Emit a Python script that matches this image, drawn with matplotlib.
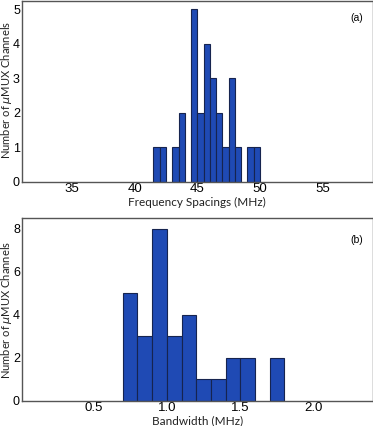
import matplotlib
matplotlib.use("Agg")
import matplotlib.pyplot as plt

# (a) frequency spacing histogram, 0.5 MHz bins
freq_left_edges = [41.5, 42.0, 43.0, 43.5, 44.5, 45.0, 45.5, 46.0, 46.5,
                   47.0, 47.5, 48.0, 49.0, 49.5]
freq_counts = [1, 1, 1, 2, 5, 2, 4, 3, 2, 1, 3, 1, 1, 1]
freq_bin_width = 0.5
freq_ticks = [35, 40, 45, 50, 55]

# (b) bandwidth histogram, 0.1 MHz bins
bw_left_edges = [0.7, 0.8, 0.9, 1.0, 1.1, 1.2, 1.3, 1.4, 1.5, 1.7]
bw_counts = [5, 3, 8, 3, 4, 1, 1, 2, 2, 2]
bw_bin_width = 0.1
bw_ticks = [0.5, 1.0, 1.5, 2.0]

bar_color = "#1f4ab4"
edge_color = "#16244f"
spine_color = "#555555"
label_font = ["Lato", "DejaVu Sans"]
tick_font = ["Liberation Sans", "DejaVu Sans"]


def style_axes(ax):
    for s in ax.spines.values():
        s.set_color(spine_color)
        s.set_linewidth(1.0)
    ax.tick_params(axis="x", length=0, labelsize=9.5, pad=1.0)
    ax.tick_params(axis="y", length=0, labelsize=9, pad=1.5)
    for lab in ax.get_xticklabels() + ax.get_yticklabels():
        lab.set_family(tick_font)


fig = plt.figure(figsize=(3.73, 4.26), dpi=100)
ax1 = fig.add_axes([0.059, 0.573, 0.940, 0.425])
ax2 = fig.add_axes([0.059, 0.059, 0.940, 0.429])

ax1.bar(freq_left_edges, freq_counts, width=freq_bin_width, align="edge",
        color=bar_color, edgecolor=edge_color, linewidth=0.8)
ax1.set_xlim(31, 59)
ax1.set_ylim(0, 5.25)
ax1.set_xticks(freq_ticks)
ax1.set_yticks(range(0, 6))
ax1.set_xlabel("Frequency Spacings (MHz)", family=label_font, fontsize=8.5,
               color="#222222", va="center")
ax1.set_ylabel(r"Number of $\mu$MUX Channels", family=label_font,
               fontsize=8, color="#222222", va="center")
ax1.xaxis.set_label_coords(0.5, -0.113)
ax1.yaxis.set_label_coords(-0.043, 0.51)
ax1.text(0.955, 0.905, "(a)", transform=ax1.transAxes, ha="center",
         va="center", fontsize=7.5, family=tick_font)
style_axes(ax1)

ax2.bar(bw_left_edges, bw_counts, width=bw_bin_width, align="edge",
        color=bar_color, edgecolor=edge_color, linewidth=0.8)
ax2.set_xlim(0.015, 2.4)
ax2.set_ylim(0, 8.5)
ax2.set_xticks(bw_ticks)
ax2.set_xticklabels([f"{t:.1f}" for t in bw_ticks])
ax2.set_yticks(range(0, 9, 2))
ax2.set_xlabel("Bandwidth (MHz)", family=label_font, fontsize=8.5,
               color="#222222", va="center")
ax2.set_ylabel(r"Number of $\mu$MUX Channels", family=label_font,
               fontsize=8, color="#222222", va="center")
ax2.xaxis.set_label_coords(0.5, -0.107)
ax2.yaxis.set_label_coords(-0.043, 0.496)
ax2.text(0.955, 0.88, "(b)", transform=ax2.transAxes, ha="center",
         va="center", fontsize=7.5, family=tick_font)
style_axes(ax2)

fig.savefig("out.png", dpi=100)
